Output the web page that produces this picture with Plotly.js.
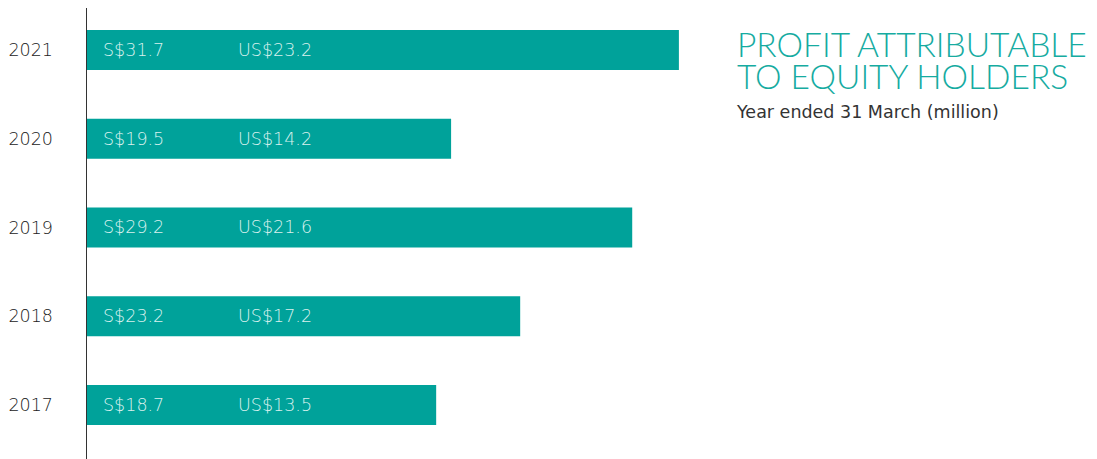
<!DOCTYPE html>
<html><head><meta charset="utf-8">
<script src="https://cdn.plot.ly/plotly-3.0.1.min.js"></script>
<style>html,body{margin:0;padding:0;background:#fff}</style>
</head><body>
<div id="chart" style="width:1097px;height:459px"></div>
<script>
const years = ["2017", "2018", "2019", "2020", "2021"];
const sgd = [18.7, 23.2, 29.2, 19.5, 31.7];
const usd = [13.5, 17.2, 21.6, 14.2, 23.2];
const titleLines = ["PROFIT ATTRIBUTABLE", "TO EQUITY HOLDERS"];
const subtitleText = "Year ended 31 March (million)";

const teal = "#00A29A";
const titleFont = "Lato, 'Open Sans', sans-serif";
const bodyFont = "'DejaVu Sans', 'Open Sans', sans-serif";

const annotations = [];
years.forEach((y, i) => {
  annotations.push({x: 0, y: i, xref: 'paper', yref: 'y', xanchor: 'left', xshift: 14,
    text: 'S$' + sgd[i].toFixed(1), showarrow: false,
    font: {family: bodyFont, size: 17.5, color: '#d8f1ee', weight: 200}});
  annotations.push({x: 0, y: i, xref: 'paper', yref: 'y', xanchor: 'left', xshift: 149,
    text: 'US$' + usd[i].toFixed(1), showarrow: false,
    font: {family: bodyFont, size: 17.5, color: '#d8f1ee', weight: 200}});
});
titleLines.forEach((t, k) => {
  annotations.push({xref: 'paper', yref: 'paper', x: 1.057, y: 0.969 - k * 0.0708, xanchor: 'left', yanchor: 'top',
    text: t, showarrow: false, align: 'left',
    font: {family: titleFont, size: 33.5, color: '#16aba1', weight: 300}});
});
annotations.push({xref: 'paper', yref: 'paper', x: 1.056, y: 0.796, xanchor: 'left', yanchor: 'top',
  text: subtitleText, showarrow: false, align: 'left',
  font: {family: bodyFont, size: 17.5, color: '#333333'}});

Plotly.newPlot('chart', [{
  type: 'bar', orientation: 'h', y: years, x: sgd,
  marker: {color: teal}, width: 0.45, hoverinfo: 'skip'
}], {
  width: 1097, height: 459,
  margin: {l: 87, r: 397, t: 8, b: 0},
  paper_bgcolor: '#fff', plot_bgcolor: '#fff',
  showlegend: false,
  xaxis: {range: [0, 32.83], showticklabels: false, showgrid: false, zeroline: false, showline: false, ticks: '', fixedrange: true},
  yaxis: {type: 'category', range: [-0.609, 4.473], showline: true, linecolor: '#333', linewidth: 1.5,
    showgrid: false, zeroline: false, ticks: '', ticklabelstandoff: 29,
    tickfont: {family: bodyFont, size: 17.5, color: '#222', weight: 200}},
  annotations: annotations
}, {staticPlot: true});
</script>
</body></html>
